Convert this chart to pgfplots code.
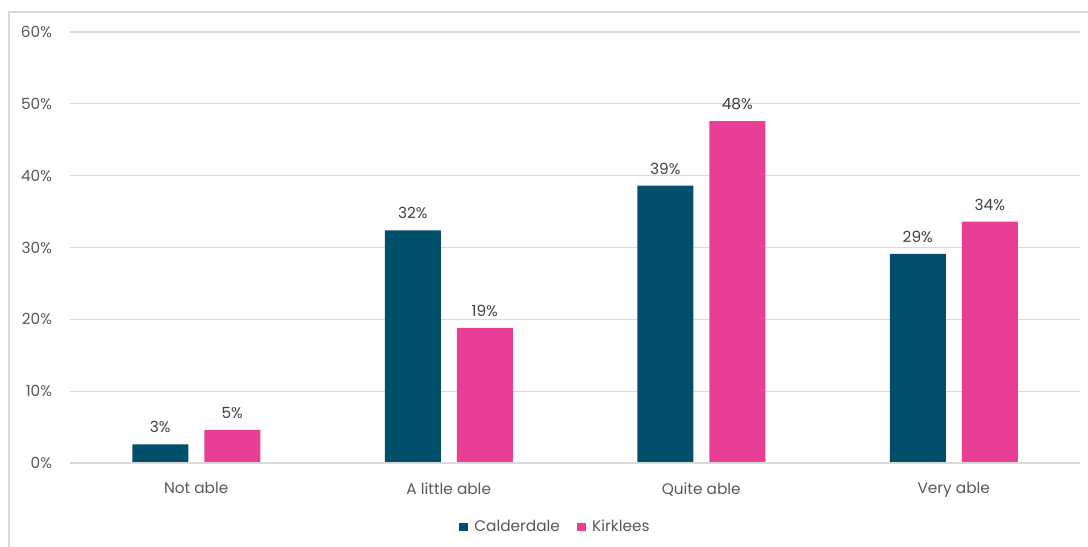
\documentclass[border=0pt]{standalone}
\usepackage{fontspec}
\setmainfont{Poppins}
\usepackage{pgfplots}
\pgfplotsset{compat=1.18}
\definecolor{cald}{HTML}{00506B}
\definecolor{kirk}{HTML}{E83E96}
\definecolor{gridc}{HTML}{D9D9D9}
\definecolor{tickc}{HTML}{595959}
\definecolor{labc}{HTML}{404040}
\begin{document}
\begin{tikzpicture}
\path[use as bounding box] (0pt,0pt) rectangle (816pt,409.5pt);
\draw[gridc, line width=1pt] (6.75pt,-15pt) -- (6.75pt,400.5pt) -- (830pt,400.5pt);
\begin{axis}[
  at={(52.5pt,62.25pt)}, anchor=south west,
  scale only axis, width=757.5pt, height=323.25pt,
  ybar=12pt, bar width=42pt,
  xmin=-0.5, xmax=3.5, ymin=0, ymax=60,
  xtick=data, xticklabels={Not able, A little able, Quite able, Very able},
  ytick={0,10,...,60},
  yticklabel={\pgfmathprintnumber[assume math mode=true]{\tick}\%},
  ymajorgrids, grid style={gridc, line width=0.8pt},
  axis line style={draw=none},
  axis x line*=bottom,
  major tick length=0pt,
  tick label style={font=\fontsize{11.5}{13}\selectfont, text=tickc},
  yticklabel style={xshift=-10pt},
  xticklabel style={yshift=-11pt},
  nodes near coords={\pgfmathprintnumber[fixed,precision=0,assume math mode=true]{\pgfplotspointmeta}\%},
  nodes near coords style={font=\fontsize{11.5}{13}\selectfont, text=labc, yshift=5pt},
  legend style={at={(0.483,-0.148)}, anchor=center, draw=none, legend columns=2,
    font=\fontsize{11.5}{13}\selectfont, text=tickc,
    nodes={inner xsep=5pt},
    /tikz/every even column/.append style={column sep=8pt}},
  legend image code/.code={\fill[#1] (0pt,-3.1pt) rectangle (6.2pt,3.1pt);},
]
\addplot[fill=cald, draw=none] coordinates {(0,2.6) (1,32.4) (2,38.6) (3,29.1)};
\addplot[fill=kirk, draw=none] coordinates {(0,4.6) (1,18.8) (2,47.6) (3,33.6)};
\draw[gridc, line width=0.8pt] (axis cs:-0.5,0) -- (axis cs:3.5,0);
\legend{Calderdale, Kirklees}
\end{axis}
\end{tikzpicture}
\end{document}
